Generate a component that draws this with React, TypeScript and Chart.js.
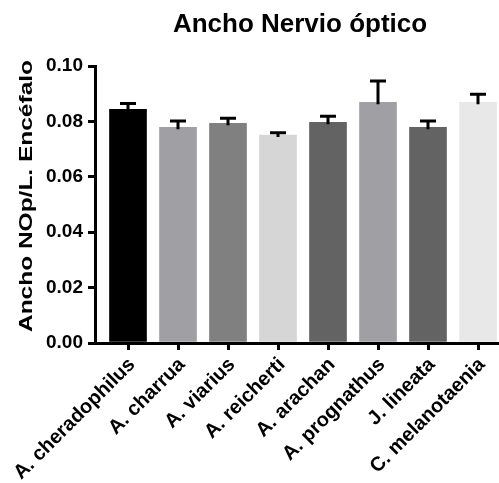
import React, { useEffect, useRef } from "react";
import { Chart, registerables } from "chart.js";

Chart.register(...registerables);

const categories = [
  "A. cheradophilus",
  "A. charrua",
  "A. viarius",
  "A. reicherti",
  "A. arachan",
  "A. prognathus",
  "J. lineata",
  "C. melanotaenia",
];
const means = [0.0844, 0.0779, 0.0793, 0.0751, 0.0797, 0.0869, 0.0779, 0.0869];
const sems = [0.0021, 0.0022, 0.0018, 0.0008, 0.0022, 0.0077, 0.0022, 0.0029];
const barColors = ["#000000", "#a0a0a4", "#808080", "#d6d6d6", "#636363", "#a0a0a4", "#636363", "#e8e8e8"];
const yTicks = [0, 0.02, 0.04, 0.06, 0.08, 0.1];
const titleText = "Ancho Nervio óptico";
const yTitleText = "Ancho NOp/L. Encéfalo";

const FONT = '"Liberation Sans", Arial, sans-serif';

const errorBarPlugin = {
  id: "errorBars",
  afterDatasetsDraw(chart: any) {
    const ctx = chart.ctx;
    const xs = chart.scales.x;
    const ys = chart.scales.y;
    ctx.save();
    ctx.strokeStyle = "#000";
    ctx.lineWidth = 3;
    means.forEach((m, i) => {
      const x = xs.getPixelForValue(i);
      const y0 = ys.getPixelForValue(m);
      const y1 = ys.getPixelForValue(m + sems[i]);
      ctx.beginPath();
      ctx.moveTo(x, y0 + 2);
      ctx.lineTo(x, y1);
      ctx.moveTo(x - 8, y1);
      ctx.lineTo(x + 8, y1);
      ctx.stroke();
    });
    ctx.restore();
  },
};

const textPlugin = {
  id: "texts",
  afterDraw(chart: any) {
    const ctx = chart.ctx;
    ctx.save();
    ctx.fillStyle = "#000";
    ctx.font = `bold 26px ${FONT}`;
    ctx.textAlign = "center";
    ctx.textBaseline = "alphabetic";
    ctx.fillText(titleText, 300, 32);
    ctx.restore();

    ctx.save();
    ctx.fillStyle = "#000";
    ctx.translate(27, 196);
    ctx.rotate(-Math.PI / 2);
    ctx.scale(1.36, 1);
    ctx.font = `bold 18px ${FONT}`;
    ctx.textAlign = "center";
    ctx.textBaseline = "middle";
    ctx.fillText(yTitleText, 0, 0);
    ctx.restore();
  },
};

export default function App() {
  const ref = useRef<HTMLCanvasElement>(null);
  useEffect(() => {
    if (!ref.current) return;
    const chart = new Chart(ref.current, {
      type: "bar",
      data: {
        datasets: [
          {
            data: means.map((m, i) => ({ x: i, y: m })),
            backgroundColor: barColors,
            borderWidth: 0,
            barThickness: 37,
          } as any,
        ],
      },
      options: {
        animation: false,
        responsive: false,
        layout: { padding: { top: 66, left: 0, right: 0, bottom: 0 } },
        plugins: {
          legend: { display: false },
          title: { display: false },
          tooltip: { enabled: false },
        },
        scales: {
          x: {
            type: "linear",
            min: -0.66,
            max: 7.42,
            offset: false,
            afterBuildTicks: (scale: any) => {
              scale.ticks = categories.map((_, i) => ({ value: i }));
            },
            afterFit: (scale: any) => {
              scale.height = 140;
            },
            ticks: {
              autoSkip: false,
              maxRotation: 45,
              minRotation: 45,
              padding: 3,
              labelOffset: 4,
              color: "#000",
              font: { family: FONT, size: 20, weight: "bold" },
              callback: (v: any) => categories[Math.round(Number(v))] ?? "",
            },
            grid: {
              offset: false,
              drawOnChartArea: false,
              drawTicks: true,
              tickLength: 7,
              color: "#000",
              lineWidth: 3,
            },
            border: { display: true, color: "#000", width: 3 },
          },
          y: {
            min: 0,
            max: 0.1,
            afterBuildTicks: (scale: any) => {
              scale.ticks = yTicks.map((v) => ({ value: v }));
            },
            afterFit: (scale: any) => {
              scale.width = 95;
            },
            ticks: {
              padding: 5,
              color: "#000",
              font: { family: FONT, size: 19, weight: "bold" },
              callback: (v: any) => Number(v).toFixed(2),
            },
            grid: {
              drawOnChartArea: false,
              drawTicks: true,
              tickLength: 7,
              color: "#000",
              lineWidth: 3,
            },
            border: { display: true, color: "#000", width: 3 },
          },
        },
      } as any,
      plugins: [errorBarPlugin, textPlugin],
    });
    return () => chart.destroy();
  }, []);
  return (
    <div style={{ position: "absolute", left: 0, top: 0, width: 499, height: 483, background: "#fff" }}>
      <canvas ref={ref} width={499} height={483} style={{ display: "block" }} />
    </div>
  );
}
